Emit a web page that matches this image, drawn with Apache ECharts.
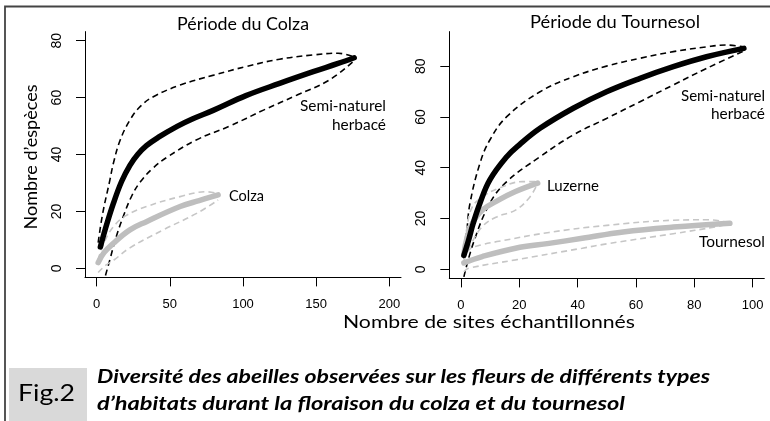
<!DOCTYPE html>
<html><head><meta charset="utf-8">
<script src="https://cdn.jsdelivr.net/npm/echarts@6/dist/echarts.min.js"></script>
<style>html,body{margin:0;padding:0;background:#fff}#c{width:770px;height:421px}</style>
</head><body><div id="c"></div>
<script>
// ---- tick labels ----
var colzaXTicks = [0, 50, 100, 150, 200];
var colzaYTicks = [0, 20, 40, 60, 80];
var tournXTicks = [0, 20, 40, 60, 80, 100];
var tournYTicks = [0, 20, 40, 60, 80];

// ---- Période du Colza: [sites, species] ----
var colzaSN      = [[2.5,7.5],[6,14],[11.4,22.8],[17,30.5],[22.7,36.2],[28,40],[34,43.1],[42,46],[55,49.9],[65,52.4],[80,55.6],[102,60.7],[125,65],[148,69.1],[165,72],[176,74]];
var colzaSN_hi   = [[1,9],[4,19],[9,31],[11.4,36.9],[16,45],[22.7,52.1],[30,57],[38.7,60.3],[57,64.4],[80,67.9],[102,70.9],[125,73.5],[148,75],[165,75.6],[176,74.3]];
var colzaSN_lo   = [[6,-2.5],[9,3],[13,10.5],[18,18],[24,25.5],[30,30.5],[38,35],[48,39],[68,45.1],[91,50],[114,55.6],[137,60.9],[159,66.2],[176,73]];
var colzaCo      = [[1,2],[5,5.5],[11.4,8.8],[22.7,13.5],[34,16.4],[57,21.7],[70,23.8],[83,25.8]];
var colzaCo_hi   = [[1,3],[5,9],[11.4,14.6],[20,18.5],[34,21.7],[57,25.2],[75,26.9],[83,26.2]];
var colzaCo_lo   = [[1,-1.5],[6,1],[12,3],[22.7,7.2],[45.5,13.5],[68.3,19.3],[83,24]];

// ---- Période du Tournesol ----
var tournSN      = [[1,5.5],[2.5,11],[4.2,18.1],[6.5,26],[9.9,35.2],[15.7,44.3],[20,49],[27.1,55.5],[38.5,63.4],[49.9,69.9],[61.4,75.2],[72.8,79.8],[84.2,83.7],[97,87]];
var tournSN_hi   = [[1,4],[2,15],[3.1,26],[6.5,41.7],[9.9,50.9],[15.7,60.1],[27.1,69.9],[38.5,75.8],[49.9,80],[61.4,83.1],[72.8,85.7],[84.2,87.6],[91,88.3],[97,87.5]];
var tournSN_lo   = [[1,-3],[4.2,10.2],[9.9,26],[15.7,34.5],[27.1,44.3],[38.5,52.9],[49.9,59.4],[61.4,66],[72.8,72.6],[84.2,79.1],[97,86]];
var luzerne      = [[1,6],[2,12],[3.9,18.1],[7.3,23.3],[13,27.3],[18.7,30.6],[26.3,33.9]];
var luzerne_hi   = [[1,7],[2,16],[3.9,24.6],[8,29],[13,31.9],[21,34.5],[26,34.5]];
var luzerne_lo   = [[1,4],[3,9],[7.3,16.8],[12,20.5],[18.7,23.3],[23.3,28],[26,33]];
var tournesol    = [[1,2.5],[7.3,5],[18.7,8.3],[30.2,10.2],[41.6,12.2],[55.6,14.7],[72.8,16.6],[92.2,18.1]];
var tournesol_hi = [[1,3],[2.7,7.6],[7,9.6],[13,11],[30.2,14.5],[50,17.3],[72.8,19.3],[85,19.5],[92,18.3]];
var tournesol_lo = [[1,-1],[2.7,0.4],[18.7,3.7],[41.6,8.3],[49.9,10],[72.8,14],[87.7,16.8],[92,18]];

var BLACK = '#000000', GREY = '#bebebe', GREYD = '#c6c6c6';
var xTickFont = {fontFamily: 'Liberation Sans', fontSize: 13, color: '#000'};
var yTickFont = {fontFamily: 'Liberation Sans', fontSize: 14, color: '#000'};
var TXT = 'Lato, sans-serif';

function mean(data, xi, color){
  return {type:'line', xAxisIndex:xi, yAxisIndex:xi, data:data, smooth:0.4, showSymbol:false,
    lineStyle:{color:color, width:5.5, cap:'round', join:'round'}, silent:true, z:3};
}
function band(data, xi, color){
  return {type:'line', xAxisIndex:xi, yAxisIndex:xi, data:data, smooth:0.4, showSymbol:false,
    lineStyle:{color:color, width:1.6, type:[6,4]}, silent:true, z:2};
}
function xAx(gi, min, max, ticks){
  return {type:'value', gridIndex:gi, min:min, max:max, splitLine:{show:false},
    axisLine:{show:true, onZero:false, lineStyle:{color:'#000', width:1}},
    axisTick:{show:true, length:9, customValues:ticks, lineStyle:{color:'#000'}},
    axisLabel:Object.assign({margin:21, customValues:ticks}, xTickFont)};
}
function yAx(gi, min, max, ticks){
  return {type:'value', gridIndex:gi, min:min, max:max, splitLine:{show:false},
    axisLine:{show:true, onZero:false, lineStyle:{color:'#000', width:1}},
    axisTick:{show:true, length:9, customValues:ticks, lineStyle:{color:'#000'}},
    axisLabel:Object.assign({margin:21, rotate:90, customValues:ticks}, yTickFont)};
}
var mctx = document.createElement('canvas').getContext('2d');
// text stretched horizontally to the width measured on the reference
function txt(x, y, s, font, align, targetW){
  mctx.font = font;
  var w = mctx.measureText(s).width;
  return {type:'text', x:x, y:y, silent:true, z:10,
    scaleX:targetW ? targetW / w : 1, scaleY:1,
    style:{text:s, font:font, fill:'#000', textAlign:align||'center', textVerticalAlign:'middle'}};
}
function txtR(x, y, s, font, targetLen){
  mctx.font = font;
  var w = mctx.measureText(s).width;
  return {type:'text', x:x, y:y, silent:true, z:10, rotation:Math.PI/2,
    scaleX:targetLen / w, scaleY:1,
    style:{text:s, font:font, fill:'#000', textAlign:'center', textVerticalAlign:'middle'}};
}

var F17 = '17px ' + TXT, F15 = '15px ' + TXT, FCAP = 'italic bold 19px ' + TXT;

var chart = echarts.init(document.getElementById('c'), null, {renderer:'canvas'});
chart.setOption({
  animation:false,
  backgroundColor:'#fff',
  grid:[
    {left:85, top:31.6, width:316, height:245.8, containLabel:false},
    {left:449.3, top:31.6, width:315, height:246.8, containLabel:false}
  ],
  xAxis:[xAx(0,-8,208,colzaXTicks), xAx(1,-4,104,tournXTicks)],
  yAxis:[yAx(0,-3.2,83.2,colzaYTicks), yAx(1,-3.6,93.6,tournYTicks)],
  series:[
    band(colzaSN_hi,0,BLACK), band(colzaSN_lo,0,BLACK),
    band(colzaCo_hi,0,GREYD), band(colzaCo_lo,0,GREYD),
    mean(colzaCo,0,GREY), mean(colzaSN,0,BLACK),
    band(tournSN_hi,1,BLACK), band(tournSN_lo,1,BLACK),
    band(luzerne_hi,1,GREYD), band(luzerne_lo,1,GREYD),
    band(tournesol_hi,1,GREYD), band(tournesol_lo,1,GREYD),
    mean(tournesol,1,GREY), mean(luzerne,1,GREY), mean(tournSN,1,BLACK)
  ],
  graphic:[
    {type:'polyline', silent:true, shape:{points:[[5,421],[5,6.5],[770,6.5]]}, style:{stroke:'#444', lineWidth:1.8, fill:null}},
    {type:'rect', silent:true, shape:{x:9, y:368, width:78, height:53}, style:{fill:'#d9d9d9'}},
    txt(46.5, 393, 'Fig.2', '24px ' + TXT, 'center', 57),
    txt(243, 25, 'Période du Colza', F17, 'center', 132),
    txt(615, 23, 'Période du Tournesol', F17, 'center', 170),
    txtR(32, 157, 'Nombre d\u2019espèces', F17, 145),
    txt(489, 323, 'Nombre de sites échantillonnés', F17, 'center', 292),
    txt(386, 106, 'Semi-naturel', F15, 'right', 86),
    txt(386, 125, 'herbacé', F15, 'right', 54),
    txt(229, 196, 'Colza', F15, 'left', 35),
    txt(765, 96, 'Semi-naturel', F15, 'right', 84),
    txt(765, 114, 'herbacé', F15, 'right', 54),
    txt(547, 186, 'Luzerne', F15, 'left', 52),
    txt(765, 242, 'Tournesol', F15, 'right', 66),
    txt(97, 377, 'Diversité des abeilles observées sur les fleurs de différents types', FCAP, 'left', 613),
    txt(97, 404, 'd\u2019habitats durant la floraison du colza et du tournesol', FCAP, 'left', 528)
  ]
});
</script></body></html>
